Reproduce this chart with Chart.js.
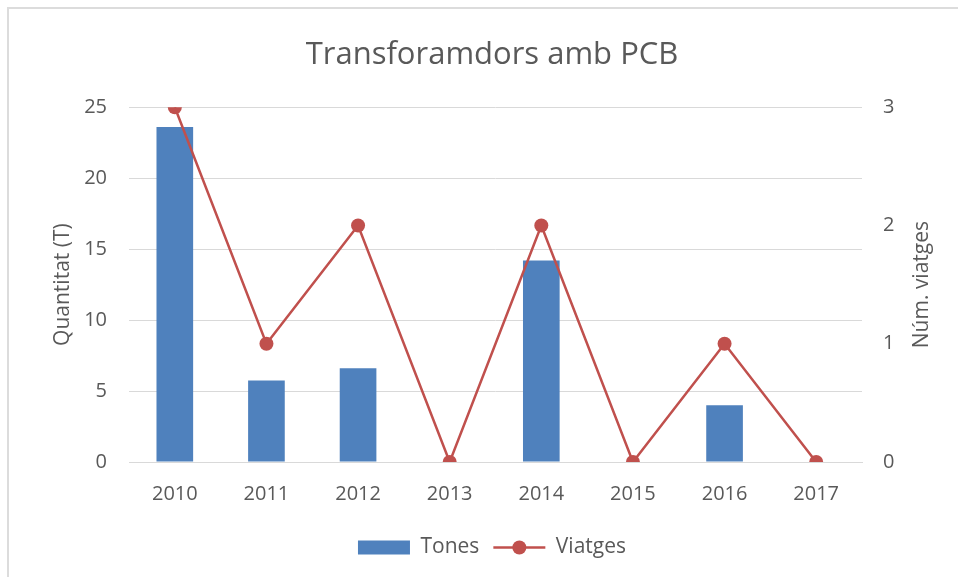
<!DOCTYPE html>
<html>
<head>
<meta charset="utf-8">
<script src="https://cdn.jsdelivr.net/npm/chart.js@4"></script>
<style>
  html, body { margin: 0; padding: 0; background: #fff; }
  #wrap { position: relative; width: 958px; height: 577px; overflow: hidden; }
  #frame { position: absolute; left: 7px; top: 7px; width: 980px; height: 600px; border: 2px solid #dcdcdc; box-sizing: border-box; }
  canvas { position: absolute; left: 0; top: 0; }
</style>
</head>
<body>
<div id="wrap">
  <div id="frame"></div>
  <canvas id="chart" width="958" height="577"></canvas>
</div>
<script>
var years = ['2010', '2011', '2012', '2013', '2014', '2015', '2016', '2017'];
var tones = [23.6, 5.75, 6.6, 0, 14.2, 0, 4.0, 0];
var viatges = [3, 1, 2, 0, 2, 0, 1, 0];
var tonesTicks = [0, 5, 10, 15, 20, 25];
var viatgesTicks = [0, 1, 2, 3];

var textColor = '#595959';
var gridColor = '#d9d9d9';
var blue = '#4f81bd';
var red = '#c0504d';
var fontFamily = '"Open Sans", "Liberation Sans", sans-serif';

// dot on the legend line + right axis title reading bottom to top
var extras = {
    id: 'extras',
    afterDraw: function (chart) {
        var ctx = chart.ctx;
        var legend = chart.legend;
        if (legend && legend.legendHitBoxes) {
            var box = legend.legendHitBoxes[1];
            var bw = legend.options.labels.boxWidth;
            ctx.save();
            ctx.fillStyle = red;
            ctx.beginPath();
            ctx.arc(box.left + bw / 2, box.top + box.height / 2, 7, 0, Math.PI * 2);
            ctx.fill();
            ctx.restore();
        }
        var area = chart.chartArea;
        ctx.save();
        ctx.translate(922, (area.top + area.bottom) / 2);
        ctx.rotate(-Math.PI / 2);
        ctx.fillStyle = textColor;
        ctx.font = '21px ' + fontFamily;
        ctx.textAlign = 'center';
        ctx.textBaseline = 'middle';
        ctx.fillText('Núm. viatges', 0, 0);
        ctx.restore();
    }
};

var ctx = document.getElementById('chart');
var chart = new Chart(ctx, {
    data: {
        labels: years,
        datasets: [{
            type: 'line',
            label: 'Viatges',
            data: viatges,
            yAxisID: 'y1',
            borderColor: red,
            backgroundColor: red,
            borderWidth: 2.5,
            pointRadius: 7,
            pointHoverRadius: 7,
            pointBackgroundColor: red,
            pointBorderColor: red,
            pointBorderWidth: 0,
            tension: 0,
            order: 0
        }, {
            type: 'bar',
            label: 'Tones',
            data: tones,
            yAxisID: 'y',
            backgroundColor: blue,
            borderWidth: 0,
            barPercentage: 0.4,
            categoryPercentage: 1,
            order: 1
        }]
    },
    options: {
        responsive: false,
        animation: false,
        layout: {
            padding: { top: 37, left: 47, right: 21, bottom: 9 }
        },
        plugins: {
            title: {
                display: true,
                text: 'Transforamdors amb PCB',
                color: textColor,
                font: { family: fontFamily, size: 31, weight: 'normal' },
                padding: { top: 0, bottom: 33 }
            },
            legend: {
                position: 'bottom',
                labels: {
                    usePointStyle: true,
                    pointStyleWidth: 52,
                    boxWidth: 52,
                    boxHeight: 14,
                    padding: 14,
                    color: textColor,
                    font: { family: fontFamily, size: 21 },
                    generateLabels: function (chart) {
                        return [{
                            text: 'Tones',
                            fillStyle: blue,
                            strokeStyle: blue,
                            lineWidth: 0,
                            pointStyle: 'rect',
                            datasetIndex: 1,
                            fontColor: textColor
                        }, {
                            text: 'Viatges',
                            fillStyle: red,
                            strokeStyle: red,
                            lineWidth: 2.5,
                            pointStyle: 'line',
                            datasetIndex: 0,
                            fontColor: textColor
                        }];
                    }
                }
            },
            tooltip: { enabled: false }
        },
        scales: {
            x: {
                grid: { display: false, drawTicks: false },
                border: { display: true, color: gridColor, width: 1 },
                ticks: {
                    color: textColor,
                    padding: 20,
                    font: { family: fontFamily, size: 20 }
                },
                afterFit: function (scale) { scale.height = 61; }
            },
            y: {
                position: 'left',
                min: 0,
                max: 25,
                afterBuildTicks: function (scale) {
                    scale.ticks = tonesTicks.map(function (v) { return { value: v }; });
                },
                grid: { color: gridColor, drawTicks: false },
                border: { display: false },
                ticks: {
                    color: textColor,
                    padding: 22,
                    font: { family: fontFamily, size: 20 }
                },
                title: {
                    display: true,
                    text: 'Quantitat (T)',
                    color: textColor,
                    padding: { top: 3, bottom: 4 },
                    font: { family: fontFamily, size: 21 }
                },
                afterFit: function (scale) { scale.width = 82; }
            },
            y1: {
                position: 'right',
                min: 0,
                max: 3,
                afterBuildTicks: function (scale) {
                    scale.ticks = viatgesTicks.map(function (v) { return { value: v }; });
                },
                grid: { display: false, drawTicks: false },
                border: { display: false },
                ticks: {
                    color: textColor,
                    padding: 21,
                    font: { family: fontFamily, size: 20 }
                },
                afterFit: function (scale) { scale.width = 75; }
            }
        }
    },
    plugins: [extras]
});
</script>
</body>
</html>
